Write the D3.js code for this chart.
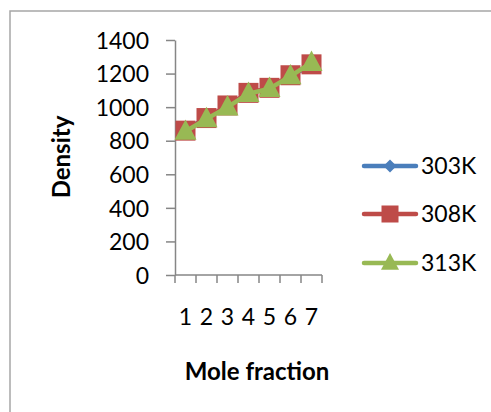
<!DOCTYPE html>
<html>
<head>
<meta charset="utf-8">
<script src="https://cdn.jsdelivr.net/npm/d3@7"></script>
<style>
  body { margin: 0; background: #fff; }
  svg { display: block; }
  text { font-family: Lato, "Liberation Sans", sans-serif; fill: #000; }
</style>
</head>
<body>
<div id="chart"></div>
<script>
const categories = ["1", "2", "3", "4", "5", "6", "7"]
const series = ["303K", "308K", "313K"]
const values303 = [865, 935, 1005, 1085, 1110, 1190, 1245]
const values308 = [860, 935, 1010, 1085, 1115, 1190, 1255]
const values313 = [855, 930, 1000, 1080, 1110, 1185, 1265]
const yTicks = [0, 200, 400, 600, 800, 1000, 1200, 1400]

const width = 491, height = 412
const colors = ["#4a7ebb", "#be4b48", "#98b954"]
const allValues = [values303, values308, values313]

const svg = d3.select("#chart").append("svg")
  .attr("width", width)
  .attr("height", height)

// outer chart frame (only left/top visible)
svg.append("rect")
  .attr("x", 10).attr("y", 11)
  .attr("width", 600).attr("height", 600)
  .attr("fill", "none")
  .attr("stroke", "#a6a6a6")
  .attr("stroke-width", 1.5)

const plot = { left: 175, right: 322, top: 40, bottom: 275 }

const x = d3.scaleBand().domain(categories).range([plot.left, plot.right])
const y = d3.scaleLinear().domain([0, 1400]).range([plot.bottom, plot.top])

// y axis
const yAxis = svg.append("g")
  .attr("transform", `translate(${plot.left},0)`)
  .call(d3.axisLeft(y).tickValues(yTicks).tickFormat(d3.format("d"))
    .tickSize(9).tickPadding(17).tickSizeOuter(0))
yAxis.selectAll("text").style("font-size", "23px").attr("dy", "0.36em")
yAxis.selectAll("line, path").attr("stroke", "#868686").attr("stroke-width", 1.5)

// x axis: tick marks at band edges
const xAxis = svg.append("g")
  .attr("transform", `translate(0,${plot.bottom})`)
const edges = categories.map(c => x(c)).concat([x.range()[1]])
xAxis.append("line")
  .attr("x1", plot.left).attr("x2", plot.right)
  .attr("stroke", "#868686").attr("stroke-width", 1.5)
xAxis.selectAll("line.tick")
  .data(edges)
  .join("line")
  .attr("class", "tick")
  .attr("x1", d => d).attr("x2", d => d)
  .attr("y1", 0).attr("y2", 8)
  .attr("stroke", "#868686").attr("stroke-width", 1.5)
xAxis.selectAll("text")
  .data(categories)
  .join("text")
  .attr("x", d => x(d) + x.bandwidth() / 2)
  .attr("y", 50)
  .attr("text-anchor", "middle")
  .style("font-size", "23px")
  .text(d => d)

const cx = c => x(c) + x.bandwidth() / 2
const line = d3.line().x((d, i) => cx(categories[i])).y(d => y(d))

const diamond = (g, s) => g.append("path")
  .attr("d", `M0,${-s}L${s},0L0,${s}L${-s},0Z`)
const square = (g, s) => g.append("rect")
  .attr("x", -s).attr("y", -s).attr("width", 2 * s).attr("height", 2 * s)
const triangle = (g, s) => g.append("path")
  .attr("d", `M0,${-s * 1.1}L${s},${s * 0.75}L${-s},${s * 0.75}Z`)
const markers = [diamond, square, triangle]
const markerSize = [8, 10, 11]

allValues.forEach((vals, k) => {
  const g = svg.append("g")
  g.append("path")
    .datum(vals)
    .attr("d", line)
    .attr("fill", "none")
    .attr("stroke", colors[k])
    .attr("stroke-width", 4.5)
    .attr("stroke-linejoin", "round")
  vals.forEach((v, i) => {
    const m = g.append("g").attr("transform", `translate(${cx(categories[i])},${y(v)})`)
    markers[k](m, markerSize[k]).attr("fill", colors[k])
  })
})

// axis titles
svg.append("text")
  .attr("transform", "translate(70,157) rotate(-90)")
  .attr("text-anchor", "middle")
  .style("font-size", "24px")
  .style("font-weight", "bold")
  .text("Density")

svg.append("text")
  .attr("x", 257).attr("y", 380)
  .attr("text-anchor", "middle")
  .style("font-size", "24px")
  .style("font-weight", "bold")
  .text("Mole fraction")

// legend
const legendY = [166, 214, 263]
const legendMarker = [6.5, 8.5, 9]
series.forEach((name, k) => {
  const g = svg.append("g").attr("transform", `translate(0,${legendY[k]})`)
  g.append("line")
    .attr("x1", 364).attr("x2", 416)
    .attr("stroke", colors[k]).attr("stroke-width", 4.5)
    .attr("stroke-linecap", "round")
  const m = g.append("g").attr("transform", "translate(390,0)")
  markers[k](m, legendMarker[k]).attr("fill", colors[k])
  g.append("text")
    .attr("x", 421).attr("y", 8)
    .style("font-size", "23px")
    .text(name)
})
</script>
</body>
</html>
